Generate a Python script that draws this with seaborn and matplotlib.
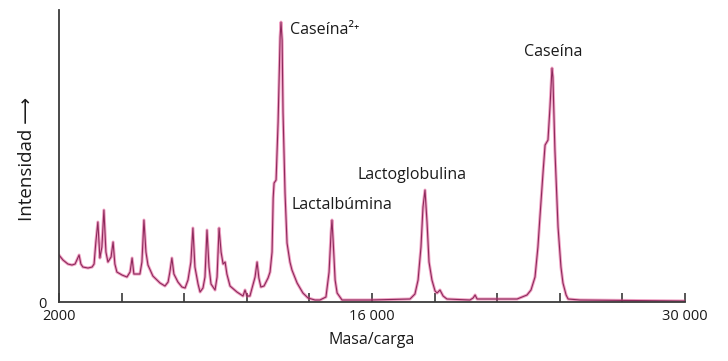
import matplotlib
matplotlib.use("Agg")
import matplotlib.pyplot as plt
import seaborn as sns
import pandas as pd

# Mass spectrum of milk proteins (mass/charge vs. intensity, arbitrary units)
masa_carga = [
    2000, 2180, 2400, 2580, 2720, 2900, 2980, 3070, 3300, 3480, 3570, 3650,
    3740, 3830, 3920, 4010, 4100, 4190, 4330, 4420, 4500, 4590, 4820, 5040,
    5180, 5270, 5350, 5620, 5710, 5800, 5890, 5980, 6200, 6520, 6740, 6880,
    6960, 7050, 7140, 7320, 7500, 7640, 7770, 7900, 7990, 8080, 8220, 8310,
    8440, 8530, 8620, 8710, 8800, 8980, 9070, 9160, 9250, 9340, 9430, 9510,
    9650, 9960, 10230, 10320, 10410, 10540, 10770, 10860, 10940, 11030, 11170,
    11350, 11440, 11530, 11580, 11620, 11710, 11800, 11890, 11930, 11980,
    12020, 12110, 12200, 12330, 12420, 12650, 12910, 13140, 13450, 13670,
    13940, 14080, 14170, 14210, 14260, 14350, 14440, 14660, 15910, 17700,
    17920, 18060, 18190, 18280, 18370, 18460, 18550, 18680, 18820, 18910,
    19040, 19180, 19350, 20380, 20520, 20610, 20700, 22490, 22710, 22930,
    23110, 23290, 23420, 23510, 23650, 23740, 23870, 23960, 24050, 24090,
    24180, 24320, 24450, 24540, 24680, 24770, 25300, 30000,
]
intensidad = [
    47, 42, 38, 37, 38, 47, 38, 35, 34, 35, 38, 60,
    80, 44, 55, 92, 50, 40, 45, 60, 38, 30, 27, 25,
    30, 44, 28, 28, 40, 82, 50, 37, 26, 19, 16, 20,
    30, 44, 28, 20, 15, 14, 22, 40, 74, 35, 18, 10,
    14, 25, 72, 35, 18, 12, 25, 74, 50, 38, 40, 28,
    16, 10, 6, 12, 6, 6, 25, 40, 24, 15, 16,
    24, 30, 50, 104, 119, 122, 180, 265, 280, 262,
    190, 109, 59, 40, 32, 19, 9, 4, 2, 2,
    5, 30, 70, 82, 62, 22, 9, 2, 2, 3,
    8, 22, 55, 95, 112, 80, 40, 22, 11, 9,
    12, 6, 3, 2, 4, 7, 3, 3, 5, 7,
    12, 25, 55, 85, 130, 157, 162, 195, 234, 225,
    152, 75, 35, 19, 7, 3, 2, 1,
]

picos = ["Caseína²⁺", "Lactalbúmina", "Lactoglobulina", "Caseína"]
pico_x = [12330, 12420, 15330, 24090]
pico_y = [272, 97, 127, 250]

tick_pos = [2000, 4800, 7600, 10400, 13200, 16000, 18800, 21600, 24400, 27200, 30000]
tick_lab = ["2000", "", "", "", "", "16 000", "", "", "", "", "30 000"]

sns.set_theme(style="white")
plt.rcParams["font.family"] = ["Open Sans", "DejaVu Sans"]

df = pd.DataFrame({"masa": masa_carga, "intensidad": intensidad})

fig = plt.figure(figsize=(7.28, 3.61), dpi=100)
ax = fig.add_axes([0.081, 0.1634, 0.86, 0.8086])

# soft magenta halo under a thin darker trace
sns.lineplot(data=df, x="masa", y="intensidad", ax=ax, estimator=None,
             color="#e0468a", lw=2.2, alpha=0.5)
sns.lineplot(data=df, x="masa", y="intensidad", ax=ax, estimator=None,
             color="#8e2a5c", lw=0.8)

ax.set_xlim(2000, 30000)
ax.set_ylim(0, 292)

txt = "#1a1a1a"
ax.set_xticks(tick_pos)
ax.set_xticklabels(tick_lab, fontsize=10.5, color=txt)
ax.tick_params(axis="x", direction="in", length=6.5, width=1.2,
               color="#3a3a3a", pad=5, bottom=True)
ax.set_yticks([0])
ax.set_yticklabels(["0"], fontsize=10.5, color=txt)
ax.tick_params(axis="y", length=0, pad=9, left=False)

for s in ["top", "right"]:
    ax.spines[s].set_visible(False)
for s in ["left", "bottom"]:
    ax.spines[s].set_color("#3a3a3a")
    ax.spines[s].set_linewidth(1.3)

ax.set_xlabel("Masa/carga", fontsize=11.5, color=txt, labelpad=6)
ax.set_ylabel("Intensidad ⟶", fontsize=13.5, color=txt)
ax.yaxis.set_label_coords(-0.037, 0.49)

for name, x, y in zip(picos, pico_x, pico_y):
    ha = "center" if name == "Caseína" else "left"
    ax.text(x, y, name, ha=ha, va="center", fontsize=11.5, color=txt)

fig.savefig("out.png", dpi=100, facecolor="white")
